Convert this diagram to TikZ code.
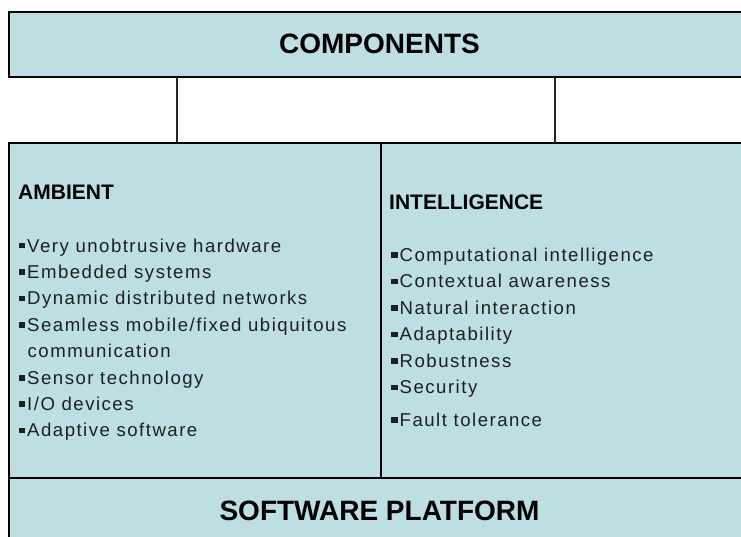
\documentclass[tikz,border=0pt]{standalone}
\usepackage{fontspec}
\setmainfont{Liberation Sans}
\newfontfamily\spacedfont[LetterSpace=8]{Liberation Sans}
\definecolor{boxfill}{RGB}{189,223,227}
\newcommand\blt{\raisebox{3.5pt}{\rule{6.5pt}{5.5pt}}\hspace{2pt}}
\newcommand\bltsp{\hspace{9pt}}
\tikzset{
  panel/.style={draw=black, line width=2pt, fill=boxfill},
  link/.style={draw=black!85, line width=2pt},
  title/.style={font=\bfseries\fontsize{28}{30}\selectfont, inner sep=0pt, anchor=base},
  heading/.style={font=\bfseries\fontsize{21}{24}\selectfont, inner sep=0pt, anchor=base west},
  itemlist/.style={font=\spacedfont\fontsize{18.6}{26.4}\selectfont, inner sep=0pt, anchor=base west, text=black!88}
}
\begin{document}
\begin{tikzpicture}[x=1pt,y=-1pt]
\useasboundingbox (0,0) rectangle (741,537);
\clip (0,0) rectangle (741,537);
\fill[white] (0,0) rectangle (741,537);
% boxes
\path[panel] (9,12) rectangle (760,77);
\path[panel] (9,143) rectangle (380.5,478);
\path[panel] (380.5,143) rectangle (760,478);
\path[panel] (9,478) rectangle (760,560);
\coordinate (topL) at (176.5,77);
\coordinate (topR) at (555,77);
\coordinate (midL) at (176.5,143);
\coordinate (midR) at (555,143);
\draw[link] (topL) -- (midL);
\draw[link] (topR) -- (midR);
% texts
\node[title] (comp) at (379.5,54) {COMPONENTS};
\node[title] (soft) at (379.5,520) {SOFTWARE PLATFORM};
\node[heading] (amb) at (18,200) {AMBIENT};
\node[heading] (intl) at (389,209.3) {INTELLIGENCE};
\node[itemlist] (amblist) at (18.5,252) {\vtop{\baselineskip=26.4pt
  \hbox{\blt Very unobtrusive hardware}
  \hbox{\blt Embedded systems}
  \hbox{\blt Dynamic distributed networks}
  \hbox{\blt Seamless mobile/fixed ubiquitous}
  \hbox{\bltsp communication}
  \hbox{\blt Sensor technology}
  \hbox{\blt I/O devices}
  \hbox{\blt Adaptive software}}};
\node[itemlist] (intlist) at (391,261.5) {\vtop{\baselineskip=26.4pt
  \hbox{\blt Computational intelligence}
  \hbox{\blt Contextual awareness}
  \hbox{\blt Natural interaction}
  \hbox{\blt Adaptability}
  \hbox{\blt Robustness}
  \hbox{\blt Security}
  \vskip 6.3pt
  \hbox{\blt Fault tolerance}}};
\end{tikzpicture}
\end{document}
